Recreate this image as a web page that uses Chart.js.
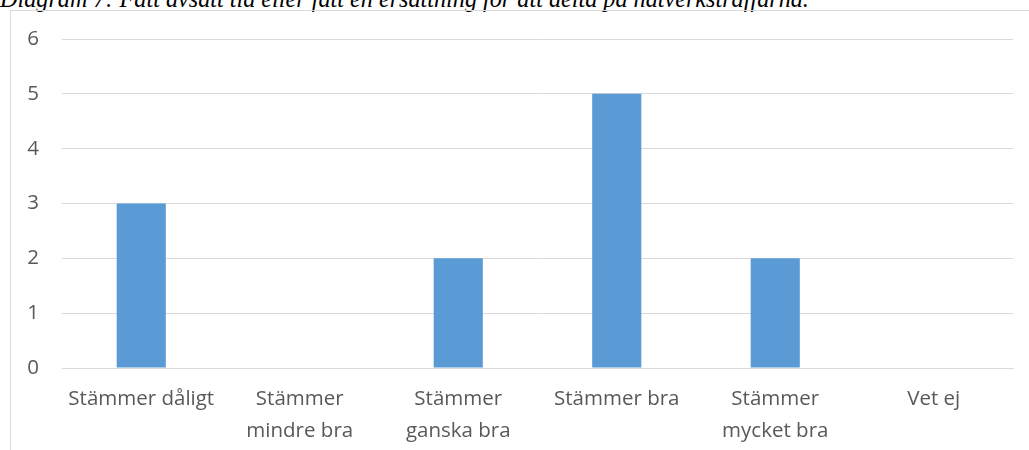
<!DOCTYPE html>
<html>
<head>
<meta charset="utf-8">
<script src="https://cdn.jsdelivr.net/npm/chart.js@4"></script>
<style>
  html, body { margin: 0; padding: 0; background: #fff; overflow: hidden; }
  body { width: 1029px; height: 450px; position: relative; }
  #caption {
    position: absolute; left: 0; top: -15px; white-space: nowrap;
    font-family: "Liberation Serif", serif; font-style: italic; font-size: 24.2px; color: #000;
  }
  #box {
    position: absolute; left: 10px; top: 10px; width: 1019px; height: 440px;
    border-left: 1px solid #D9D9D9; border-top: 1px solid #D9D9D9;
  }
  #wrap { position: absolute; left: 11px; top: 11px; width: 1018px; height: 439px; }
</style>
</head>
<body>
<div id="caption">Diagram 7: Fått avsatt tid eller fått en ersättning för att delta på nätverksträffarna.</div>
<div id="box"></div>
<div id="wrap"><canvas id="chart"></canvas></div>
<script>
// Kategorier och värden
const categories = [
    ['Stämmer dåligt'],
    ['Stämmer', 'mindre bra'],
    ['Stämmer', 'ganska bra'],
    ['Stämmer bra'],
    ['Stämmer', 'mycket bra'],
    ['Vet ej']
];
const values = [3, 0, 2, 5, 2, 0];
const yTicks = [0, 1, 2, 3, 4, 5, 6];

const textColor = '#595959';
const gridColor = '#D9D9D9';

new Chart(document.getElementById('chart'), {
    type: 'bar',
    data: {
        labels: categories,
        datasets: [{
            data: values,
            backgroundColor: '#5B9BD5',
            barPercentage: 0.31,
            categoryPercentage: 1
        }]
    },
    options: {
        responsive: true,
        maintainAspectRatio: false,
        animation: false,
        layout: { padding: { top: 28, right: 16, left: 0, bottom: 0 } },
        plugins: { legend: { display: false }, tooltip: { enabled: false } },
        scales: {
            x: {
                grid: { display: false, drawTicks: false },
                border: { color: gridColor, width: 1 },
                ticks: {
                    color: textColor,
                    font: { family: 'Open Sans', size: 20.5, lineHeight: 1.55 },
                    padding: 15,
                    maxRotation: 0,
                    autoSkip: false
                },
                afterFit: (scale) => {
                    scale.height = 82;
                    scale.paddingLeft = 0;
                    scale.paddingRight = 0;
                }
            },
            y: {
                min: 0,
                max: 6,
                afterBuildTicks: (scale) => { scale.ticks = yTicks.map(v => ({ value: v })); },
                grid: { color: gridColor, drawTicks: false },
                border: { display: false },
                ticks: {
                    color: textColor,
                    font: { family: 'Open Sans', size: 20.5 },
                    padding: 23
                },
                afterFit: (scale) => {
                    scale.width = 51;
                    scale.paddingTop = 0;
                    scale.paddingBottom = 0;
                }
            }
        }
    }
});
</script>
</body>
</html>
